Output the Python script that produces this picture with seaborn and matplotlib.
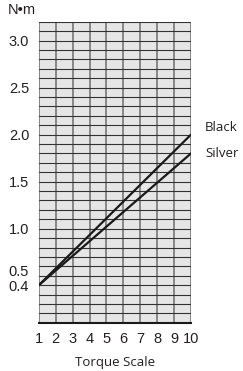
import matplotlib
matplotlib.use("Agg")
import matplotlib.pyplot as plt
import matplotlib.transforms as mtransforms
import pandas as pd
import seaborn as sns
from matplotlib.ticker import MultipleLocator

# torque scale setting vs. torque (N·m) for the two driver versions
torque_scale = [1, 10]
black_nm = [0.4, 2.0]
silver_nm = [0.4, 1.8]
series_names = ["Black", "Silver"]
y_tick_values = [0.4, 0.5, 1.0, 1.5, 2.0, 2.5, 3.0]
x_tick_values = list(range(1, 11))

df = pd.DataFrame(
    {
        "scale": torque_scale * 2,
        "torque": black_nm + silver_nm,
        "finish": [series_names[0]] * len(torque_scale) + [series_names[1]] * len(torque_scale),
    }
)

sns.set_theme(style="white")
plt.rcParams["font.family"] = ["Liberation Sans", "DejaVu Sans"]

fig = plt.figure(figsize=(2.43, 3.71), dpi=100)
ax = fig.add_axes([0.160, 0.130, 0.626, 0.8115])
ax.set_facecolor("#e6e6e7")

sns.lineplot(
    data=df, x="scale", y="torque", hue="finish",
    palette={"Black": "#1a1a1a", "Silver": "#1a1a1a"},
    linewidth=1.6, legend=False, ax=ax, zorder=5,
)

ax.set_xlim(1, 10)
ax.set_ylim(0, 3.2)
ax.set_xticks(x_tick_values)
ax.set_yticks(y_tick_values)
ax.yaxis.set_minor_locator(MultipleLocator(0.1))
ylabels = ax.set_yticklabels([f"{v:.1f}" for v in y_tick_values])

ax.grid(False)
ax.yaxis.grid(True, which="both", color="#333333", linewidth=0.8, zorder=1)
ax.xaxis.grid(True, which="major", color="#808080", linewidth=1.3, zorder=2)
ax.set_axisbelow(True)

for side in ["left", "right", "top"]:
    ax.spines[side].set_visible(False)
ax.spines["bottom"].set_color("#1a1a1a")
ax.spines["bottom"].set_linewidth(1.5)

ax.tick_params(axis="both", which="both", length=0, labelsize=10.5, colors="#231f20")
ax.tick_params(axis="y", pad=7)
ax.tick_params(axis="x", pad=7)

# 0.5 sits just above its grid line so it clears 0.4
shift = mtransforms.ScaledTranslation(0, 4 / 72, fig.dpi_scale_trans)
ylabels[1].set_transform(ylabels[1].get_transform() + shift)

ax.set_xlabel("Torque Scale", fontsize=9.5, family=["Open Sans", "DejaVu Sans"],
              color="#231f20", labelpad=7)
ax.set_ylabel("")
fig.text(0.033, 0.974, "N\u2022m", fontsize=10.5, color="#231f20", va="center", ha="left")

label_offsets = [(10, 5), (10, 0)]
for name, vals, off in zip(series_names, [black_nm, silver_nm], label_offsets):
    ax.annotate(name, xy=(torque_scale[-1], vals[-1]), xytext=off,
                textcoords="offset points", fontsize=9.5, color="#231f20",
                family=["Open Sans", "DejaVu Sans"], va="center", ha="left",
                annotation_clip=False)

fig.savefig("out.png", dpi=100)
